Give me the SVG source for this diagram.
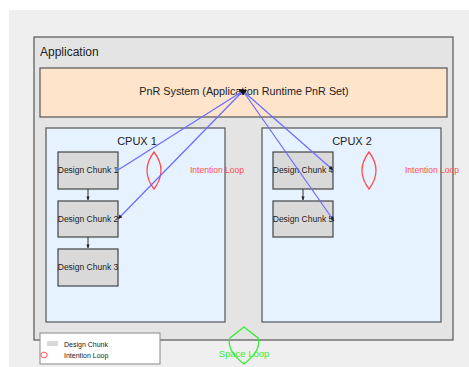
<svg xmlns="http://www.w3.org/2000/svg" width="469" height="367" viewBox="0 0 469 367">
<defs>
<style>
.t{font-family:"Liberation Sans",Arial,sans-serif;fill:#222}
.chunk rect{fill:#d9d9d9;stroke:#444;stroke-width:1.2}
.chunk text{font-size:8.5px;text-anchor:middle}
.cpu rect{fill:#e6f2ff;stroke:#555;stroke-width:1.2}
.cpu text{font-size:11px;text-anchor:middle}
.blue{stroke:#6b6bff;stroke-width:1.2;fill:none}
.seq{stroke:#333;stroke-width:1;fill:none}
.loop{fill:none;stroke:#ff4d4d;stroke-width:1.3}
.red{fill:#ff4d4d;font-size:8.5px}
</style>
<marker id="ahs" viewBox="0 0 10 10" refX="9" refY="5" markerWidth="4" markerHeight="4" orient="auto">
<path d="M0,1 L10,5 L0,9 z" fill="#222"/>
</marker>
</defs>
<rect x="0" y="0" width="469" height="367" fill="#ffffff"/>
<rect x="9" y="10" width="460" height="357" fill="#efefef"/>
<g id="application">
<rect x="34" y="37" width="419" height="303" fill="#e4e4e4" stroke="#555" stroke-width="1.2"/>
<text class="t" x="40" y="56" font-size="12">Application</text>
</g>
<g id="pnr">
<rect x="40" y="68" width="407" height="49" fill="#fde4cb" stroke="#555" stroke-width="1.2"/>
<text class="t" x="244" y="95" font-size="10.8" text-anchor="middle">PnR System (Application Runtime PnR Set)</text>
</g>
<g id="cpux1" class="cpu">
<rect x="46" y="128" width="179" height="194"/>
<text class="t" x="137" y="145">CPUX 1</text>
</g>
<g id="cpux2" class="cpu">
<rect x="262" y="128" width="179" height="194"/>
<text class="t" x="352" y="145">CPUX 2</text>
</g>
<g id="chunk1" class="chunk"><rect x="58" y="152" width="60" height="37"/><text class="t" x="88" y="173">Design Chunk 1</text></g>
<g id="chunk2" class="chunk"><rect x="58" y="201" width="60" height="36"/><text class="t" x="88" y="222">Design Chunk 2</text></g>
<g id="chunk3" class="chunk"><rect x="58" y="249" width="60" height="37"/><text class="t" x="88" y="270">Design Chunk 3</text></g>
<g id="chunk4" class="chunk"><rect x="273" y="152" width="60" height="37"/><text class="t" x="303" y="173">Design Chunk 4</text></g>
<g id="chunk5" class="chunk"><rect x="273" y="201" width="60" height="36"/><text class="t" x="303" y="222">Design Chunk 5</text></g>
<g id="intention1">
<path class="loop" d="M154,152 Q140,170.5 154,189 Q168,170.5 154,152 Z"/>
<text class="t red" x="190" y="173">Intention Loop</text>
</g>
<g id="intention2">
<path class="loop" d="M369,152 Q355,170.5 369,189 Q383,170.5 369,152 Z"/>
<text class="t red" x="405" y="173">Intention Loop</text>
</g>
<g id="spaceloop">
<path d="M244,327 L258,338 Q262,350 244,364 Q226,350 230,338 Z" fill="none" stroke="#33ee33" stroke-width="1.3"/>
<text x="244" y="357" font-family="'Liberation Sans',Arial,sans-serif" font-size="9.5" fill="#33ee33" text-anchor="middle">Space Loop</text>
</g>
<g id="connectors">
<line class="seq" x1="88" y1="189" x2="88" y2="200" marker-end="url(#ahs)"/>
<line class="seq" x1="88" y1="237" x2="88" y2="248" marker-end="url(#ahs)"/>
<line class="seq" x1="303" y1="189" x2="303" y2="200" marker-end="url(#ahs)"/>
<line class="blue" x1="243" y1="91" x2="118" y2="170"/>
<line class="blue" x1="243" y1="91" x2="118" y2="219" marker-end="url(#ahs)"/>
<line class="blue" x1="243" y1="91" x2="333" y2="170" marker-end="url(#ahs)"/>
<line class="blue" x1="243" y1="91" x2="334" y2="221" marker-end="url(#ahs)"/>
<path d="M238,89 L247,90 L243,95 z" fill="#111"/>
</g>
<g id="legend">
<rect x="40" y="333" width="120" height="31" fill="#ffffff" stroke="#888" stroke-width="1"/>
<rect x="47" y="341" width="11" height="5" fill="#d9d9d9"/>
<text class="t" x="64" y="347" font-size="7">Design Chunk</text>
<path d="M44,352 L47,353.5 L47,356.5 L44,358 L41,356.5 L41,353.5 Z" fill="none" stroke="#ff4d4d" stroke-width="1"/>
<text class="t" x="64" y="358" font-size="7">Intention Loop</text>
</g>
</svg>
